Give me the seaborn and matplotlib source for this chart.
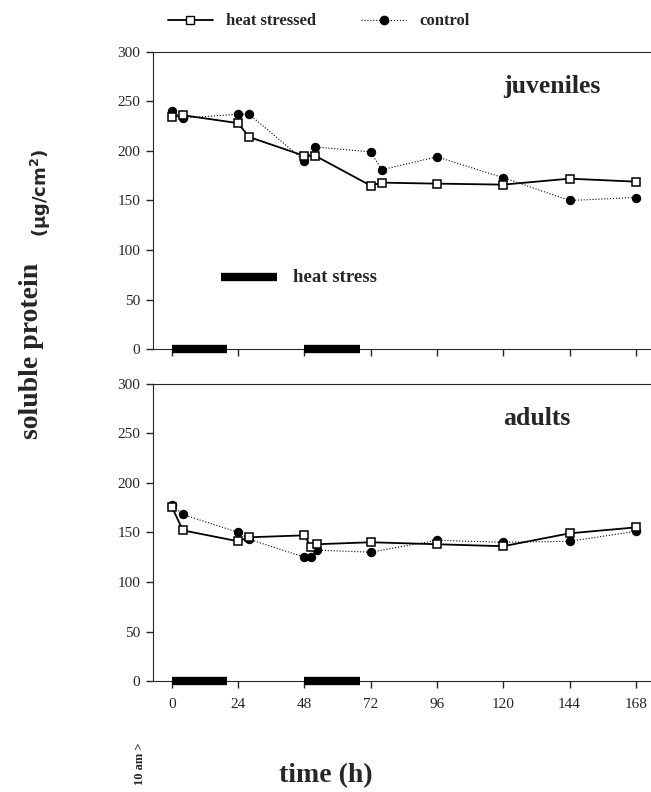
import pandas as pd
import matplotlib
matplotlib.use("Agg")
import matplotlib.pyplot as plt
from matplotlib.lines import Line2D
import seaborn as sns

# sampling times (h after 10 am) and soluble protein (ug/cm2)
juv_hours = [0, 4, 24, 28, 48, 52, 72, 76, 96, 120, 144, 168]
juv_heat = [234, 236, 228, 214, 195, 195, 165, 168, 167, 166, 172, 169]
juv_control = [240, 233, 237, 237, 190, 204, 199, 181, 194, 173, 150, 153]

adult_hours = [0, 4, 24, 28, 48, 50.5, 52.5, 72, 96, 120, 144, 168]
adult_heat = [176, 152, 141, 145, 147, 135, 138, 140, 138, 136, 149, 155]
adult_control = [178, 168, 150, 143, 125, 125, 132, 130, 142, 140, 141, 151]

stress_periods = [(0, 20), (48, 68)]
x_ticks = [0, 24, 48, 72, 96, 120, 144, 168]
y_ticks = [0, 50, 100, 150, 200, 250, 300]

sns.set_style("ticks")
plt.rcParams["font.family"] = ["Liberation Serif", "DejaVu Serif"]

fig = plt.figure(figsize=(6.51, 7.92), dpi=100)
ax_top = fig.add_axes([0.235, 0.559, 0.765, 0.3757])
ax_bot = fig.add_axes([0.235, 0.140, 0.765, 0.3757])

heat_kw = dict(color="black", linewidth=1.3, marker="s", markersize=5.8,
               markerfacecolor="white", markeredgecolor="black",
               markeredgewidth=1.1, estimator=None, zorder=3)
ctrl_kw = dict(color="black", linewidth=0.8, linestyle=":", marker="o",
               markersize=6, markerfacecolor="black", markeredgecolor="black",
               estimator=None, zorder=2)


def draw_panel(ax, hours, heat, control, label):
    df = pd.DataFrame({"h": hours, "heat": heat, "control": control})
    sns.lineplot(data=df, x="h", y="control", ax=ax, **ctrl_kw)
    sns.lineplot(data=df, x="h", y="heat", ax=ax, **heat_kw)
    for start, end in stress_periods:
        ax.plot([start, end], [0, 0], color="black", linewidth=6,
                solid_capstyle="butt", zorder=4, clip_on=False)
    ax.set_xlim(-6.8, 173.5)
    ax.set_ylim(0, 300)
    ax.set_xticks(x_ticks)
    ax.set_yticks(y_ticks)
    ax.set_xlabel("")
    ax.set_ylabel("")
    ax.spines["right"].set_visible(False)
    ax.tick_params(axis="both", direction="out", length=5, width=1,
                   labelsize=11, pad=4)
    ax.tick_params(axis="x", pad=7)
    ax.text(120, 265, label, fontsize=18.5, fontweight="bold",
            ha="left", va="center")


draw_panel(ax_top, juv_hours, juv_heat, juv_control, "juveniles")
draw_panel(ax_bot, adult_hours, adult_heat, adult_control, "adults")
ax_top.set_xticklabels([])

# heat stress key inside top panel
ax_top.plot([18, 38], [73, 73], color="black", linewidth=6,
            solid_capstyle="butt")
ax_top.text(44, 72, "heat stress", fontsize=13.5, fontweight="bold",
            va="center", ha="left")

# legend on top
handles = [
    Line2D([], [], color="black", linewidth=1.3, marker="s", markersize=5.8,
           markerfacecolor="white", markeredgecolor="black"),
    Line2D([], [], color="black", linewidth=0.8, linestyle=":", marker="o",
           markersize=6, markerfacecolor="black"),
]
fig.legend(handles, ["heat stressed", "control"], loc="center",
           bbox_to_anchor=(0.49, 0.973), ncol=2, frameon=False,
           handlelength=2.7, columnspacing=2.7, handletextpad=0.8,
           prop={"size": 12, "weight": "bold"})

fig.text(0.5, 0.021, "time (h)", fontsize=20, fontweight="bold",
         ha="center", va="center")
fig.text(0.215, 0.036, "10 am >", fontsize=9, fontweight="bold",
         rotation=90, ha="center", va="center")
fig.text(0.048, 0.557, "soluble protein", fontsize=20, fontweight="bold",
         rotation=90, ha="center", va="center")
fig.text(0.063, 0.757, "(\u00b5g/cm$^{\\mathbf{2}}$)", fontsize=13,
         fontweight="bold", rotation=90, ha="center", va="center",
         family=["DejaVu Sans"])

fig.savefig("out.png", dpi=100)
